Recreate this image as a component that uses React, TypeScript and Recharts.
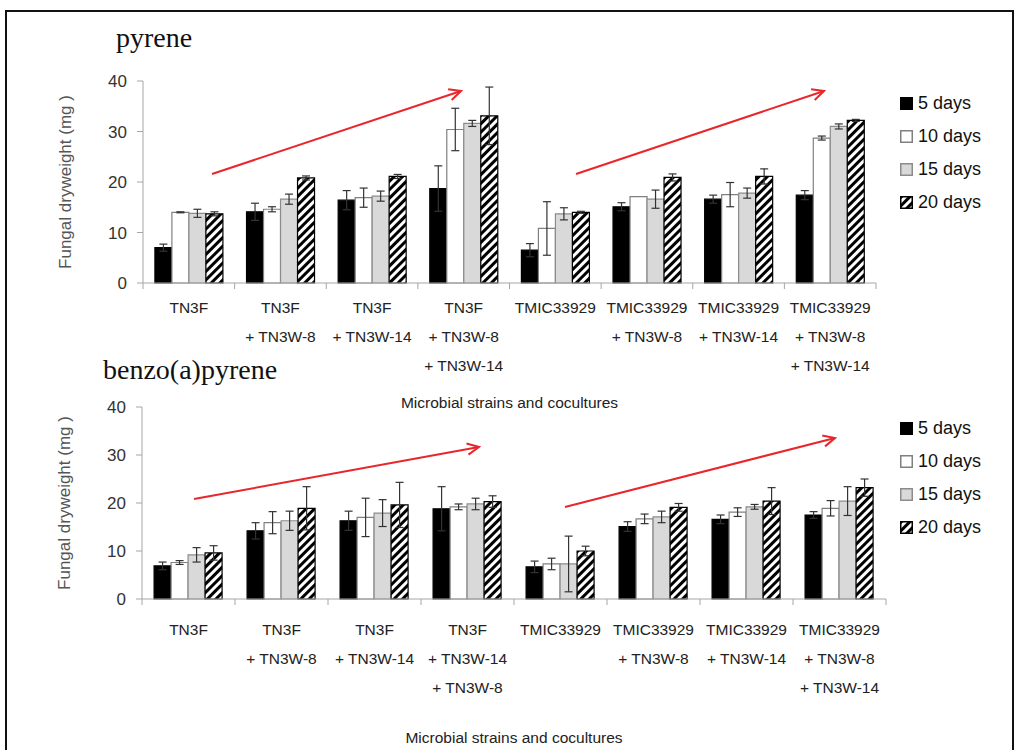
import { Bar, BarChart, ErrorBar, Label, XAxis, YAxis } from 'recharts'

const pyreneStrains = [
  'TN3F',
  'TN3F\n+ TN3W-8',
  'TN3F\n+ TN3W-14',
  'TN3F\n+ TN3W-8\n+ TN3W-14',
  'TMIC33929',
  'TMIC33929\n+ TN3W-8',
  'TMIC33929\n+ TN3W-14',
  'TMIC33929\n+ TN3W-8\n+ TN3W-14',
]
const bapStrains = [
  'TN3F',
  'TN3F\n+ TN3W-8',
  'TN3F\n+ TN3W-14',
  'TN3F\n+ TN3W-14\n+ TN3W-8',
  'TMIC33929',
  'TMIC33929\n+ TN3W-8',
  'TMIC33929\n+ TN3W-14',
  'TMIC33929\n+ TN3W-8\n+ TN3W-14',
]
const seriesNames = ['5 days', '10 days', '15 days', '20 days']
const yTicks = [0, 10, 20, 30, 40]

// pyrene, mg
const pyrene5 = [7.0, 14.1, 16.4, 18.7, 6.5, 15.1, 16.6, 17.4]
const pyrene10 = [14.0, 14.6, 16.9, 30.4, 10.8, 17.1, 17.5, 28.7]
const pyrene15 = [13.8, 16.6, 17.2, 31.6, 13.7, 16.6, 17.8, 31.0]
const pyrene20 = [13.7, 20.8, 21.1, 33.1, 14.0, 20.9, 21.1, 32.2]
const pyrene5Err = [0.7, 1.7, 1.9, 4.5, 1.3, 0.8, 0.8, 0.9]
const pyrene10Err = [0.1, 0.5, 1.9, 4.2, 5.3, 0, 2.4, 0.4]
const pyrene15Err = [0.8, 1.0, 1.0, 0.6, 1.2, 1.8, 1.0, 0.5]
const pyrene20Err = [0.4, 0.4, 0.4, 5.7, 0.2, 0.7, 1.5, 0.2]

// benzo(a)pyrene, mg
const bap5 = [6.9, 14.2, 16.3, 18.8, 6.7, 15.1, 16.6, 17.5]
const bap10 = [7.6, 15.9, 17.0, 19.2, 7.3, 16.7, 18.1, 18.9]
const bap15 = [9.2, 16.3, 17.9, 19.8, 7.3, 17.1, 19.2, 20.4]
const bap20 = [9.6, 18.9, 19.6, 20.3, 10.0, 19.1, 20.4, 23.2]
const bap5Err = [0.8, 1.7, 2.0, 4.6, 1.2, 1.0, 0.9, 0.7]
const bap10Err = [0.4, 2.3, 4.0, 0.6, 1.2, 1.0, 0.9, 1.6]
const bap15Err = [1.5, 2.0, 2.8, 1.2, 5.8, 1.2, 0.5, 3.0]
const bap20Err = [1.5, 4.5, 4.7, 1.2, 1.0, 0.8, 2.8, 1.8]

const SANS = '"Liberation Sans", Arial, sans-serif'
const SERIF = '"Liberation Serif", "Times New Roman", serif'
const AXIS = '#a6a6a6'
const RED = '#e8262b'

const barStyles = [
  { fill: '#000000', stroke: '#000000' },
  { fill: '#ffffff', stroke: '#808080' },
  { fill: '#d9d9d9', stroke: '#8c8c8c' },
  { fill: 'url(#hatch)', stroke: '#000000' },
]

function buildRows(strains: string[], vals: number[][], errs: number[][]) {
  return strains.map((strain, i) => ({
    strain,
    d5: vals[0][i],
    d10: vals[1][i],
    d15: vals[2][i],
    d20: vals[3][i],
    e5: errs[0][i],
    e10: errs[1][i],
    e15: errs[2][i],
    e20: errs[3][i],
  }))
}

function HatchDefs() {
  return (
    <defs>
      <pattern id="hatch" patternUnits="userSpaceOnUse" width="6" height="6" patternTransform="rotate(45)">
        <rect width="6" height="6" fill="#fff" />
        <rect width="3" height="6" fill="#000" />
      </pattern>
    </defs>
  )
}

function StrainTick(props: any) {
  const { x, y, payload, index, band, first, gap, count } = props
  const lines = String(payload.value).split('\n')
  const left = x - band / 2
  return (
    <g>
      <line x1={left} x2={left} y1={y} y2={y + 6} stroke={AXIS} />
      {index === count - 1 && <line x1={left + band} x2={left + band} y1={y} y2={y + 6} stroke={AXIS} />}
      <text x={x} y={y + first} textAnchor="middle" fontSize={15.5} fontFamily={SANS} fill="#222">
        {lines.map((line, i) => (
          <tspan key={i} x={x} dy={i === 0 ? 0 : gap}>
            {line}
          </tspan>
        ))}
      </text>
    </g>
  )
}

type PanelProps = {
  top: number
  height: number
  plotTop: number
  plotBottom: number
  plotLeft: number
  plotRight: number
  xAxisHeight: number
  firstLine: number
  titleOffset: number
  rows: ReturnType<typeof buildRows>
}

function Panel({ top, height, plotTop, plotBottom, plotLeft, plotRight, xAxisHeight, firstLine, titleOffset, rows }: PanelProps) {
  const yAxisWidth = 90
  const band = (plotRight - plotLeft) / rows.length
  const keys = ['d5', 'd10', 'd15', 'd20']
  const errKeys = ['e5', 'e10', 'e15', 'e20']
  return (
    <div style={{ position: 'absolute', left: 0, top }}>
      <BarChart
        width={1018}
        height={height}
        data={rows}
        margin={{
          top: plotTop,
          left: plotLeft - yAxisWidth,
          right: 1018 - plotRight,
          bottom: height - plotBottom - xAxisHeight,
        }}
        barCategoryGap="13%"
        barGap={0}
      >
        <HatchDefs />
        <XAxis
          dataKey="strain"
          interval={0}
          height={xAxisHeight}
          axisLine={{ stroke: AXIS }}
          tickLine={false}
          tickSize={0}
          tickMargin={0}
          tick={(p: any) => <StrainTick {...p} band={band} first={firstLine} gap={29} count={rows.length} />}
        >
          <Label
            value="Microbial strains and cocultures"
            position="insideBottom"
            offset={titleOffset}
            style={{ fontSize: 15.5, fontFamily: SANS, fill: '#222' }}
          />
        </XAxis>
        <YAxis
          width={yAxisWidth}
          domain={[0, 40]}
          ticks={yTicks}
          axisLine={{ stroke: AXIS }}
          tickLine={{ stroke: AXIS }}
          tickSize={6}
          tickMargin={10}
          tick={{ fontSize: 17, fill: '#333', fontFamily: SANS }}
        >
          <Label
            value="Fungal dryweight (mg )"
            angle={-90}
            position="insideLeft"
            offset={12}
            style={{ textAnchor: 'middle', fontSize: 17, fontFamily: SANS, fill: '#555' }}
          />
        </YAxis>
        {keys.map((k, i) => (
          <Bar key={k} dataKey={k} name={seriesNames[i]} fill={barStyles[i].fill} stroke={barStyles[i].stroke} strokeWidth={1.2} isAnimationActive={false}>
            <ErrorBar dataKey={errKeys[i]} width={4} stroke="#333" strokeWidth={1.2} direction="y" />
          </Bar>
        ))}
      </BarChart>
    </div>
  )
}

function LegendBox({ left, top }: { left: number; top: number }) {
  return (
    <div style={{ position: 'absolute', left, top }}>
      {seriesNames.map((name, i) => (
        <div key={name} style={{ display: 'flex', alignItems: 'center', height: 33 }}>
          <svg width={13} height={13} style={{ marginRight: 5 }}>
            <HatchDefs />
            <rect x={0.75} y={0.75} width={11.5} height={11.5} fill={barStyles[i].fill} stroke={barStyles[i].stroke} strokeWidth={1.5} />
          </svg>
          <span style={{ fontFamily: SANS, fontSize: 18, color: '#111' }}>{name}</span>
        </div>
      ))}
    </div>
  )
}

function Arrow({ x1, y1, x2, y2 }: { x1: number; y1: number; x2: number; y2: number }) {
  const a = Math.atan2(y2 - y1, x2 - x1)
  const h = 13
  const s = 0.45
  const p1 = `${x2 - h * Math.cos(a - s)},${y2 - h * Math.sin(a - s)}`
  const p2 = `${x2 - h * Math.cos(a + s)},${y2 - h * Math.sin(a + s)}`
  return (
    <g stroke={RED} strokeWidth={2} fill="none">
      <line x1={x1} y1={y1} x2={x2} y2={y2} />
      <polyline points={`${p1} ${x2},${y2} ${p2}`} />
    </g>
  )
}

export default function App() {
  const pyreneRows = buildRows(pyreneStrains, [pyrene5, pyrene10, pyrene15, pyrene20], [pyrene5Err, pyrene10Err, pyrene15Err, pyrene20Err])
  const bapRows = buildRows(bapStrains, [bap5, bap10, bap15, bap20], [bap5Err, bap10Err, bap15Err, bap20Err])
  return (
    <div style={{ position: 'absolute', left: 0, top: 0, width: 1018, height: 750, overflow: 'hidden', background: '#fff' }}>
      <div style={{ position: 'absolute', left: 5, top: 10, width: 1005, height: 760, border: '2px solid #111' }} />
      <div style={{ position: 'absolute', left: 116, top: 22, fontFamily: SERIF, fontSize: 28, color: '#111' }}>pyrene</div>
      <div style={{ position: 'absolute', left: 103, top: 354, fontFamily: SERIF, fontSize: 28, color: '#111' }}>benzo(a)pyrene</div>
      <Panel top={0} height={420} plotTop={81} plotBottom={283} plotLeft={143} plotRight={876} xAxisHeight={130} firstLine={30} titleOffset={5} rows={pyreneRows} />
      <Panel top={380} height={370} plotTop={27} plotBottom={219} plotLeft={142} plotRight={886} xAxisHeight={146} firstLine={36} titleOffset={2} rows={bapRows} />
      <LegendBox left={900} top={87} />
      <LegendBox left={900} top={412} />
      <svg width={1018} height={750} style={{ position: 'absolute', left: 0, top: 0, pointerEvents: 'none' }}>
        <Arrow x1={212} y1={174} x2={461} y2={91} />
        <Arrow x1={576} y1={174} x2={824} y2={91} />
        <Arrow x1={194} y1={499} x2={479} y2={447} />
        <Arrow x1={565} y1={507} x2={835} y2={438} />
      </svg>
    </div>
  )
}
